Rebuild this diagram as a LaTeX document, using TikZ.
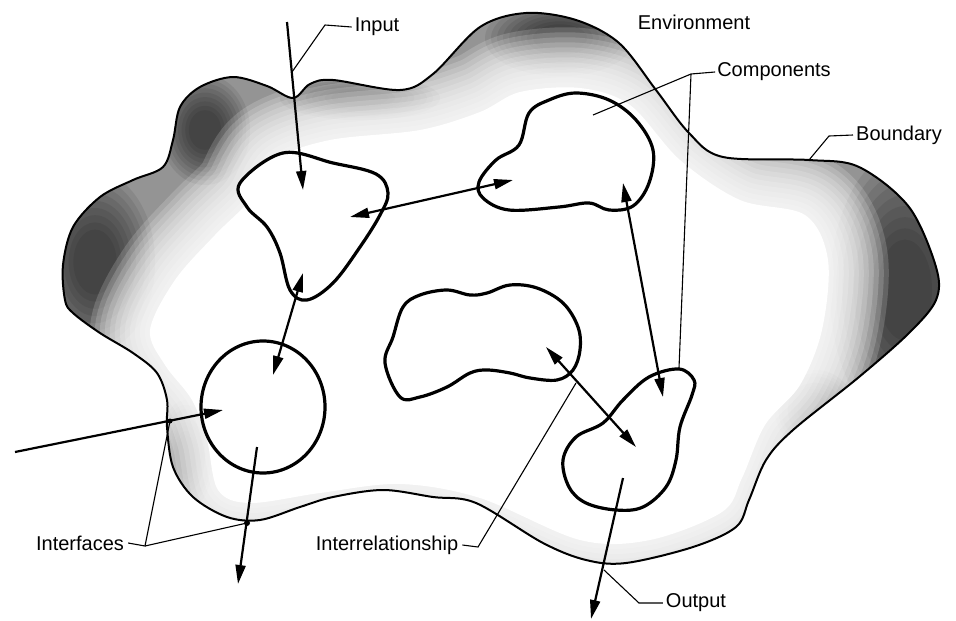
\documentclass[tikz,border=0pt]{standalone}
\usepackage{fontspec}
\setmainfont{Liberation Sans}
\usetikzlibrary{arrows.meta}
\def\OuterPath{plot[smooth cycle,tension=0.55] coordinates {(65,300) (63,265) (73,227) (100,197) (133,180) (163,167) (173,140) (180,107) (200,87) (233,77) (267,86) (293,98) (310,84) (333,80) (400,90) (433,74) (480,27) (526,13) (576,20) (619,43) (656,90) (689,133) (723,157) (809,160) (859,167) (909,207) (936,267) (936,300) (909,333) (859,377) (793,430) (766,460) (749,500) (736,527) (693,547) (626,563) (586,560) (543,543) (476,503) (433,497) (383,490) (333,497) (300,507) (260,520) (227,517) (193,497) (173,467) (167,427) (167,400) (157,373) (133,353) (100,333) (73,313)}}
\def\InnerPath{plot[smooth cycle,tension=0.55] coordinates {(150,330) (175,280) (215,235) (250,200) (275,160) (330,140) (420,130) (480,112) (520,92) (580,88) (630,105) (680,160) (740,200) (805,215) (828,260) (822,330) (800,385) (765,425) (742,478) (722,512) (650,540) (580,540) (480,498) (400,484) (320,493) (250,503) (218,490) (207,440) (192,400) (165,365)}}
\begin{document}
\begin{tikzpicture}[x=1pt,y=-1pt,
  comp/.style={draw=black,fill=white,line width=3.2pt,line join=round},
  tip/.tip={Triangle[length=19pt,width=10pt]},
  flow/.style={line width=2.2pt,-tip},
  flowboth/.style={line width=2.2pt,tip-tip},
  leader/.style={line width=1.1pt,line join=miter},
  softpatch/.style={black,opacity=0.08},
  lbl/.style={font=\fontsize{20}{24}\selectfont,inner sep=0pt,anchor=center}]
\useasboundingbox (0,0) rectangle (956,621);
% shaded environment band
\begin{scope}
  \clip \OuterPath;
  \fill[black!42] \OuterPath;
  \foreach \s in {1.0,0.92,0.84,0.76,0.68,0.6,0.52,0.44,0.36}{
    \fill[softpatch] (905,290) ellipse ({\s*75} and {\s*140});
    \fill[softpatch] (815,410) ellipse ({\s*40} and {\s*40});
    \fill[softpatch] (95,262) ellipse ({\s*60} and {\s*90});
    \fill[softpatch] (186,455) ellipse ({\s*28} and {\s*55});
    \fill[softpatch] (560,38) ellipse ({\s*75} and {\s*38});
    \fill[softpatch] (205,130) ellipse ({\s*45} and {\s*55});
    \fill[softpatch] (360,98) ellipse ({\s*80} and {\s*22});
  }
  \foreach \w in {120,110,100,90,80,70,60,50,40,30,20,10}
    \draw[white,opacity=0.17,line width=\w pt,line join=round] \InnerPath;
  \fill[white] \InnerPath;
\end{scope}
\draw[line width=2pt,line join=round] \OuterPath;
% components
\path[comp] plot[smooth cycle,tension=0.6] coordinates {(240,183) (283,153) (333,163) (376,174) (388,193) (380,215) (360,247) (333,283) (307,300) (290,290) (280,253) (267,227) (247,207)};
\path[comp] plot[smooth cycle,tension=0.6] coordinates {(479,182) (496,160) (519,145) (529,113) (549,100) (576,93) (609,100) (636,120) (653,150) (649,183) (633,206) (609,210) (589,203) (559,207) (509,210) (483,198)};
\path[comp] plot[smooth cycle,tension=0.6] coordinates {(385,363) (393,337) (403,307) (420,295) (447,290) (470,295) (487,293) (510,285) (537,288) (563,303) (578,327) (580,350) (573,370) (557,380) (530,378) (510,373) (487,370) (470,373) (447,387) (420,397) (400,397)};
\path[comp] (263,407) ellipse (62 and 66);
\path[comp] plot[smooth cycle,tension=0.6] coordinates {(563,460) (576,437) (603,423) (623,400) (649,377) (679,369) (694,380) (692,395) (680,427) (676,460) (666,487) (643,507) (616,510) (586,503) (569,487)};
% arrow end points
\coordinate (inS) at (287,22);   \coordinate (inE) at (303,190);
\coordinate (a1) at (350,217);   \coordinate (a2) at (513,180);
\coordinate (b1) at (303,273);   \coordinate (b2) at (273,375);
\coordinate (lS) at (15,452);    \coordinate (lE) at (223,410);
\coordinate (cS) at (257,447);   \coordinate (cE) at (238,584);
\coordinate (d1) at (623,183);   \coordinate (d2) at (663,397);
\coordinate (e1) at (546,347);   \coordinate (e2) at (636,447);
\coordinate (oS) at (623,478);   \coordinate (oE) at (591,619);
\draw[flow] (inS) -- (inE);
\draw[flowboth] (a1) -- (a2);
\draw[flowboth] (b1) -- (b2);
\draw[flow] (lS) -- (lE);
\draw[flow] (cS) -- (cE);
\draw[flowboth] (d1) -- (d2);
\draw[flowboth] (e1) -- (e2);
\draw[flow] (oS) -- (oE);
% labels
\node[lbl] (tIn) at (377,27) {Input};
\node[lbl] (tEnv) at (694,22) {Environment};
\node[lbl] (tComp) at (774,72) {Components};
\node[lbl] (tBound) at (899,135) {Boundary};
\node[lbl] (tInt) at (80,543) {Interfaces};
\node[lbl] (tRel) at (387,545) {Interrelationship};
\node[lbl] (tOut) at (696,603) {Output};
% leader lines
\coordinate (kIn) at (325,25);   \coordinate (pIn) at (292,72);
\draw[leader] ([xshift=-3pt]tIn.west) -- (kIn) -- (pIn);
\coordinate (kComp) at (691,74);
\coordinate (pComp1) at (593,115); \coordinate (pComp2) at (679,368);
\draw[leader] ([xshift=-2pt]tComp.west) -- (kComp) -- (pComp1);
\draw[leader] (kComp) -- (pComp2);
\coordinate (kBound) at (829,136); \coordinate (pBound) at (809,160);
\draw[leader] ([xshift=-3pt]tBound.west) -- (kBound) -- (pBound);
\coordinate (kInt) at (145,546);
\coordinate (pInt1) at (170,421); \coordinate (pInt2) at (247,523);
\draw[leader] ([xshift=4pt]tInt.east) -- (kInt) -- (pInt1);
\draw[leader] (kInt) -- (pInt2);
\fill (pInt2) circle (3pt);
\fill (pInt1) circle (2.5pt);
\coordinate (kRel) at (478,547); \coordinate (pRel) at (576,383);
\draw[leader] ([xshift=4pt]tRel.east) -- (kRel) -- (pRel);
\coordinate (kOut) at (639,603); \coordinate (pOut) at (604,570);
\draw[leader] ([xshift=-3pt]tOut.west) -- (kOut) -- (pOut);
\end{tikzpicture}
\end{document}
